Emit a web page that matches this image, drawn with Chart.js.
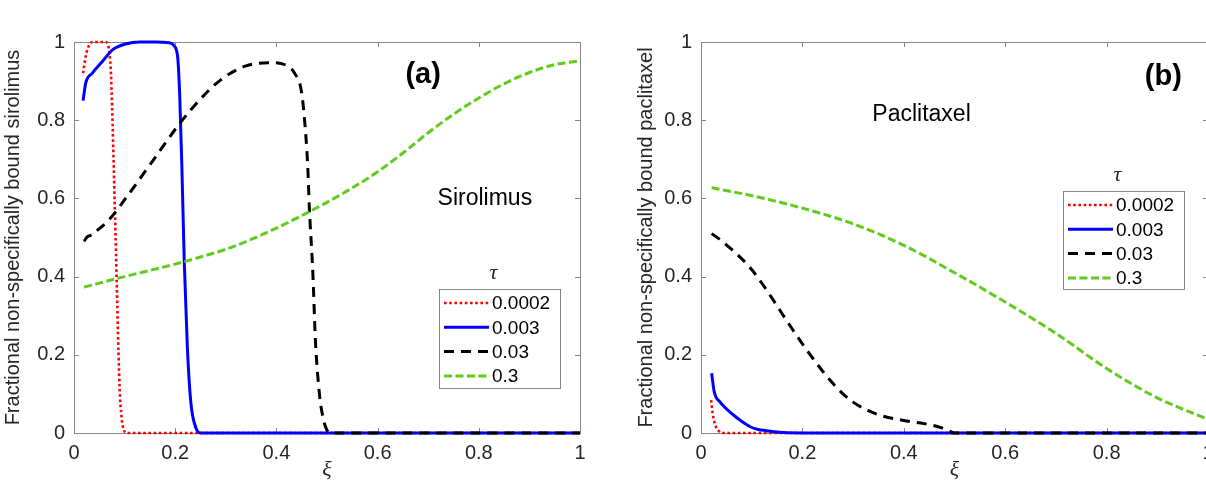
<!DOCTYPE html>
<html>
<head>
<meta charset="utf-8">
<script src="https://cdn.jsdelivr.net/npm/chart.js@4.4.1/dist/chart.umd.min.js"></script>
<style>
  html, body { margin: 0; padding: 0; background: #fff; overflow: hidden; }
  #wrap { position: relative; width: 1206px; height: 489px; overflow: hidden; }
  .panel { position: absolute; top: 0; width: 600px; height: 489px; }
  #panelA { left: 0; }
  #panelB { left: 627px; }
</style>
</head>
<body>
<div id="wrap">
  <div class="panel" id="panelA"><canvas id="chartA"></canvas></div>
  <div class="panel" id="panelB"><canvas id="chartB"></canvas></div>
</div>
<script>
/* ---- data ---- */
const TAU_LABELS = ['0.0002', '0.003', '0.03', '0.3'];
const X_TICKS = [0, 0.2, 0.4, 0.6, 0.8, 1];
const Y_TICKS = [0, 0.2, 0.4, 0.6, 0.8, 1];

// (a) sirolimus
const sirRedX = [0.018, 0.023, 0.03, 0.036, 0.05, 0.062, 0.067, 0.070, 0.073, 0.082, 0.090, 0.094, 0.098, 0.104, 0.2, 0.5, 1.0];
const sirRedY = [0.92, 0.963, 0.992, 1.0, 1.0, 1.0, 0.995, 0.97, 0.92, 0.51, 0.12, 0.04, 0.01, 0, 0, 0, 0];
const sirBlueX = [0.018, 0.023, 0.036, 0.056, 0.076, 0.102, 0.13, 0.16, 0.188, 0.198, 0.205, 0.209, 0.213, 0.218, 0.224, 0.231, 0.241, 0.251, 0.4, 0.7, 1.0];
const sirBlueY = [0.85, 0.894, 0.92, 0.95, 0.98, 0.995, 1.0, 1.0, 0.998, 0.99, 0.96, 0.86, 0.69, 0.435, 0.22, 0.077, 0.013, 0, 0, 0, 0];
const sirBlackX = [0.02, 0.025, 0.033, 0.069, 0.102, 0.155, 0.208, 0.257, 0.294, 0.34, 0.389, 0.42, 0.436, 0.449, 0.455, 0.462, 0.465, 0.472, 0.477, 0.485, 0.492, 0.498, 0.505, 0.7, 1.0];
const sirBlackY = [0.49, 0.50, 0.506, 0.545, 0.600, 0.695, 0.79, 0.864, 0.907, 0.939, 0.947, 0.94, 0.92, 0.877, 0.81, 0.68, 0.579, 0.41, 0.24, 0.10, 0.04, 0.013, 0, 0, 0];
const sirGreenX = [0.02, 0.1, 0.2, 0.25, 0.3, 0.35, 0.4, 0.45, 0.5, 0.55, 0.6, 0.65, 0.7, 0.75, 0.8, 0.85, 0.9, 0.95, 1.0];
const sirGreenY = [0.373, 0.40, 0.432, 0.45, 0.47, 0.495, 0.524, 0.556, 0.590, 0.627, 0.668, 0.716, 0.768, 0.815, 0.857, 0.893, 0.922, 0.942, 0.952];

// (b) paclitaxel
const pacRedX = [0.02, 0.023, 0.027, 0.031, 0.036, 0.04, 0.2, 0.5, 1.0];
const pacRedY = [0.084, 0.05, 0.025, 0.012, 0.004, 0, 0, 0, 0];
const pacBlueX = [0.021, 0.026, 0.037, 0.05, 0.064, 0.08, 0.097, 0.113, 0.129, 0.145, 0.162, 0.2, 0.5, 1.0];
const pacBlueY = [0.153, 0.106, 0.08, 0.062, 0.046, 0.03, 0.016, 0.009, 0.006, 0.003, 0.001, 0, 0, 0];
const pacBlackX = [0.021, 0.04, 0.06, 0.08, 0.10, 0.12, 0.14, 0.16, 0.18, 0.20, 0.22, 0.24, 0.26, 0.28, 0.30, 0.33, 0.36, 0.40, 0.44, 0.47, 0.49, 0.5, 0.7, 1.0];
const pacBlackY = [0.51, 0.492, 0.47, 0.446, 0.418, 0.383, 0.345, 0.305, 0.266, 0.228, 0.192, 0.158, 0.127, 0.10, 0.079, 0.057, 0.043, 0.032, 0.024, 0.015, 0.005, 0, 0, 0];
const pacGreenX = [0.021, 0.1, 0.2, 0.3, 0.4, 0.5, 0.6, 0.7, 0.8, 0.9, 1.0];
const pacGreenY = [0.627, 0.607, 0.575, 0.535, 0.48, 0.41, 0.335, 0.255, 0.165, 0.09, 0.035];

/* ---- styling ---- */
const AXIS_GRAY = '#858585';
const TEXT_DARK = '#262626';
const SANS = "'Liberation Sans', Arial, sans-serif";
const SERIF = "'Liberation Serif', 'Times New Roman', serif";

const STYLES = [
  { color: '#FF0000', width: 2.6, dash: [2.6, 2.6] },   // 0.0002 dotted
  { color: '#0000FF', width: 3,   dash: [] },           // 0.003 solid
  { color: '#000000', width: 3,   dash: [10, 7] },      // 0.03 dashed
  { color: '#5FCC1C', width: 3,   dash: [8, 3.5] },     // 0.3 dash-dot (renders as short dashes)
];

function pts(xs, ys) { return xs.map((x, i) => ({ x, y: ys[i] })); }

function makeDatasets(series) {
  return series.map((s, i) => ({
    label: TAU_LABELS[i],
    data: pts(s[0], s[1]),
    borderColor: STYLES[i].color,
    borderWidth: STYLES[i].width,
    borderDash: STYLES[i].dash,
    borderCapStyle: 'butt',
    pointRadius: 0,
    fill: false,
    cubicInterpolationMode: 'monotone',
    clip: 5,
    order: 4 - i,
  }));
}

/* frame with inward ticks, legend box and text labels */
const matlabFrame = {
  id: 'matlabFrame',
  beforeDatasetsDraw(chart) {
    const { ctx, chartArea: a, scales } = chart;
    ctx.save();
    ctx.strokeStyle = AXIS_GRAY;
    ctx.lineWidth = 1;
    ctx.setLineDash([]);
    ctx.strokeRect(Math.round(a.left) + 0.5, Math.round(a.top) + 0.5,
                   Math.round(a.right - a.left), Math.round(a.bottom - a.top));
    ctx.beginPath();
    scales.x.ticks.forEach(t => {
      const px = Math.round(scales.x.getPixelForValue(t.value)) + 0.5;
      ctx.moveTo(px, a.bottom); ctx.lineTo(px, a.bottom - 5);
      ctx.moveTo(px, a.top);    ctx.lineTo(px, a.top + 5);
    });
    scales.y.ticks.forEach(t => {
      const py = Math.round(scales.y.getPixelForValue(t.value)) + 0.5;
      ctx.moveTo(a.left, py);  ctx.lineTo(a.left + 5, py);
      ctx.moveTo(a.right, py); ctx.lineTo(a.right - 5, py);
    });
    ctx.stroke();
    ctx.restore();
  },
  afterDraw(chart, args, opts) {
    const { ctx, chartArea: a, scales } = chart;
    ctx.save();

    // legend
    const L = opts.legend;
    const bx = a.right - L.right - L.width;
    const by = a.top + L.top;
    ctx.fillStyle = '#fff';
    ctx.fillRect(bx, by, L.width, L.height);
    ctx.strokeStyle = AXIS_GRAY;
    ctx.lineWidth = 1;
    ctx.setLineDash([]);
    ctx.strokeRect(Math.round(bx) + 0.5, Math.round(by) + 0.5, L.width, L.height);

    chart.data.datasets.forEach((ds, i) => {
      const ry = by + 14 + i * 24.3;
      ctx.beginPath();
      ctx.strokeStyle = ds.borderColor;
      ctx.lineWidth = ds.borderWidth;
      ctx.lineCap = 'butt';
      ctx.setLineDash(ds.borderDash);
      ctx.moveTo(bx + 5, ry);
      ctx.lineTo(bx + 50, ry);
      ctx.stroke();
      ctx.setLineDash([]);
      ctx.fillStyle = '#000';
      ctx.font = '19px ' + SANS;
      ctx.textAlign = 'left';
      ctx.textBaseline = 'middle';
      ctx.fillText(ds.label, bx + 53, ry + 1);
    });

    ctx.fillStyle = TEXT_DARK;
    ctx.font = 'italic 22px ' + SERIF;
    ctx.textAlign = 'center';
    ctx.textBaseline = 'middle';
    ctx.fillText('\u03C4', bx + L.width / 2 - 6, by - 16);

    // text labels placed in data coordinates
    opts.labels.forEach(lb => {
      ctx.fillStyle = '#000';
      ctx.font = lb.font;
      ctx.textAlign = 'center';
      ctx.textBaseline = 'middle';
      ctx.fillText(lb.text, scales.x.getPixelForValue(lb.x), scales.y.getPixelForValue(lb.y));
    });
    ctx.restore();
  },
};

function makeChart(canvasId, series, yTitle, pad, yWidth, frameOpts) {
  const ctx = document.getElementById(canvasId).getContext('2d');
  return new Chart(ctx, {
    type: 'line',
    data: { datasets: makeDatasets(series) },
    options: {
      responsive: true,
      maintainAspectRatio: false,
      animation: false,
      layout: { padding: pad },
      plugins: {
        legend: { display: false },
        tooltip: { enabled: false },
        matlabFrame: frameOpts,
      },
      scales: {
        x: {
          type: 'linear',
          min: 0, max: 1,
          afterFit: s => { s.height = 56; },
          afterBuildTicks: s => { s.ticks = X_TICKS.map(v => ({ value: v })); },
          grid: { display: false, drawTicks: false },
          border: { display: false },
          ticks: {
            color: TEXT_DARK, padding: 8, maxRotation: 0, autoSkip: false,
            font: { family: SANS, size: 20 },
            callback: v => String(+v.toFixed(1)),
          },
          title: {
            display: true, text: '\u03BE', color: TEXT_DARK,
            font: { family: SERIF, size: 22, style: 'italic' },
            padding: { top: 0, bottom: 6 },
          },
        },
        y: {
          type: 'linear',
          min: 0, max: 1,
          afterFit: s => { s.width = yWidth; },
          afterBuildTicks: s => { s.ticks = Y_TICKS.map(v => ({ value: v })); },
          grid: { display: false, drawTicks: false },
          border: { display: false },
          ticks: {
            color: TEXT_DARK, padding: 9, autoSkip: false,
            font: { family: SANS, size: 20 },
            callback: v => String(+v.toFixed(1)),
          },
          title: {
            display: true, text: yTitle, color: TEXT_DARK,
            font: { family: SANS, size: 20 },
            padding: { top: 1, bottom: 0 },
          },
        },
      },
    },
    plugins: [matlabFrame],
  });
}

makeChart('chartA',
  [[sirRedX, sirRedY], [sirBlueX, sirBlueY], [sirBlackX, sirBlackY], [sirGreenX, sirGreenY]],
  'Fractional non-specifically bound sirolimus',
  { top: 42, right: 20, bottom: 0, left: 0 }, 74,
  {
    legend: { right: 20, top: 247, width: 121, height: 99 },
    labels: [
      { text: '(a)', x: 0.69, y: 0.915, font: 'bold 29px ' + SANS },
      { text: 'Sirolimus', x: 0.812, y: 0.60, font: '23px ' + SANS },
    ],
  });

makeChart('chartB',
  [[pacRedX, pacRedY], [pacBlueX, pacBlueY], [pacBlackX, pacBlackY], [pacGreenX, pacGreenY]],
  'Fractional non-specifically bound paclitaxel',
  { top: 42, right: 19, bottom: 0, left: 6 }, 68,
  {
    legend: { right: 24, top: 149, width: 121, height: 98 },
    labels: [
      { text: '(b)', x: 0.912, y: 0.91, font: 'bold 29px ' + SANS },
      { text: 'Paclitaxel', x: 0.435, y: 0.813, font: '23px ' + SANS },
    ],
  });
</script>
</body>
</html>
